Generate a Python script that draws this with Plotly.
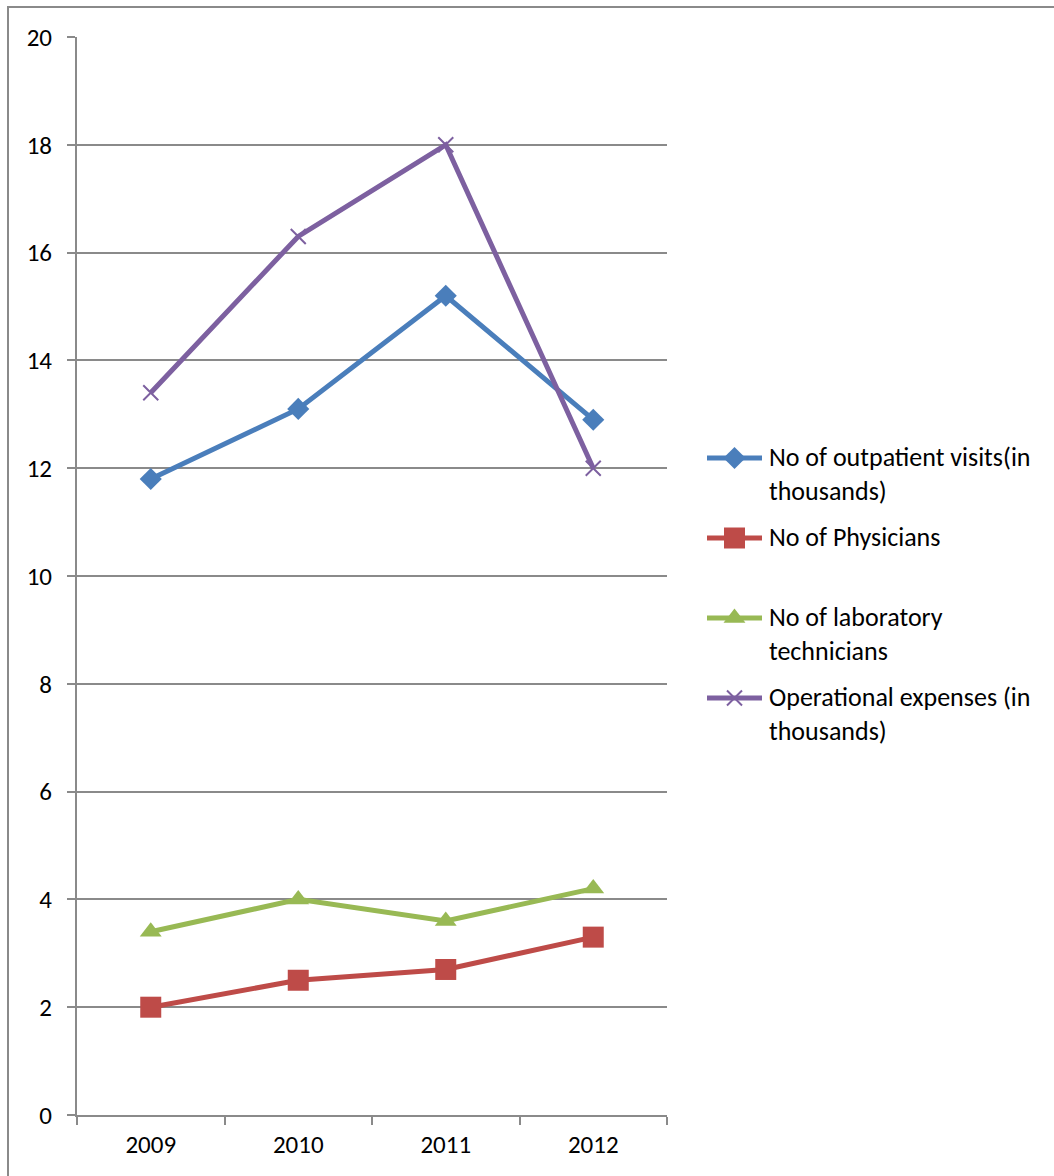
import plotly.graph_objects as go

# Chart data
years = ["2009", "2010", "2011", "2012"]
outpatient_visits = [11.8, 13.1, 15.2, 12.9]      # in thousands
physicians = [2.0, 2.5, 2.7, 3.3]
lab_technicians = [3.4, 4.0, 3.6, 4.2]
operational_expenses = [13.4, 16.3, 18.0, 12.0]  # in thousands

series_names = [
    "No of outpatient visits(in<br>thousands)",
    "No of Physicians",
    "No of laboratory<br>technicians",
    "Operational expenses (in<br>thousands)",
]

W, H = 1054, 1176
FONT = "Calibri, Carlito, Lato, sans-serif"
GRID = "#8a8a8a"

# plot-area placement in pixels
PL, PR, PT, PB = 77, 667, 37, 1115


def px_x(v):
    return v / W


def px_y(v):
    return 1 - v / H


styles = [
    dict(color="#4A7EBB", symbol="diamond", size=17, mline=0),
    dict(color="#BE4B48", symbol="square", size=21, mline=0),
    dict(color="#98B954", symbol="triangle-up", size=19, mline=0),
    dict(color="#7D60A0", symbol="x-thin", size=15, mline=2),
]
values = [outpatient_visits, physicians, lab_technicians, operational_expenses]

fig = go.Figure()

for name, vals, st in zip(series_names, values, styles):
    fig.add_trace(go.Scatter(
        x=years, y=vals, name=name, mode="lines+markers",
        line=dict(color=st["color"], width=5),
        marker=dict(symbol=st["symbol"], size=st["size"], color=st["color"], opacity=1,
                    line=dict(color=st["color"], width=st["mline"])),
        showlegend=False, xaxis="x", yaxis="y",
    ))

# legend swatches on their own pixel-scaled axes
legend_rows = [458, 538, 618, 698]
for name, row, st in zip(series_names, legend_rows, styles):
    fig.add_trace(go.Scatter(
        x=[0, 1], y=[row, row], mode="lines",
        line=dict(color=st["color"], width=5),
        showlegend=False, hoverinfo="skip", xaxis="x2", yaxis="y2",
    ))
    fig.add_trace(go.Scatter(
        x=[0.5], y=[row], mode="markers",
        marker=dict(symbol=st["symbol"], size=st["size"], color=st["color"], opacity=1,
                    line=dict(color=st["color"], width=st["mline"])),
        showlegend=False, hoverinfo="skip", xaxis="x2", yaxis="y2",
    ))
    fig.add_annotation(
        x=px_x(767), xref="paper", xanchor="left",
        y=row, yref="y2", yanchor="top", yshift=19,
        text=name, showarrow=False, align="left",
        font=dict(family=FONT, size=26, color="#000000"),
    )

fig.update_layout(
    width=W, height=H,
    margin=dict(l=0, r=0, t=0, b=0, pad=0, autoexpand=False),
    paper_bgcolor="white", plot_bgcolor="white",
    showlegend=False,
    font=dict(family=FONT, size=25, color="#000000"),
    xaxis=dict(
        domain=[px_x(PL), px_x(PR)], type="category", range=[-0.5, 3.5],
        tickson="boundaries", ticks="outside", ticklen=8, tickcolor=GRID, tickwidth=2,
        showgrid=False, showline=True, linecolor=GRID, linewidth=2,
        anchor="y", automargin=False, ticklabelstandoff=6,
        tickfont=dict(family=FONT, size=25, color="#000000"),
    ),
    yaxis=dict(
        domain=[px_y(PB), px_y(PT)], range=[0, 20], dtick=2,
        ticks="outside", ticklen=8, tickcolor=GRID, tickwidth=2,
        showgrid=True, gridcolor=GRID, gridwidth=2, zeroline=False,
        showline=True, linecolor=GRID, linewidth=2,
        anchor="x", automargin=False, ticklabelstandoff=10,
        tickfont=dict(family=FONT, size=25, color="#000000"),
    ),
    xaxis2=dict(domain=[px_x(707), px_x(762)], range=[0, 1], visible=False,
                anchor="y2", fixedrange=True, automargin=False),
    yaxis2=dict(domain=[0, 1], range=[H, 0], visible=False,
                anchor="x2", fixedrange=True, automargin=False),
    shapes=[
        dict(type="rect", xref="paper", yref="paper",
             x0=px_x(8), x1=px_x(W + 20), y0=px_y(H + 20), y1=px_y(7),
             line=dict(color=GRID, width=2), fillcolor="rgba(0,0,0,0)", layer="below"),
    ],
)

fig.write_html("out.html")
